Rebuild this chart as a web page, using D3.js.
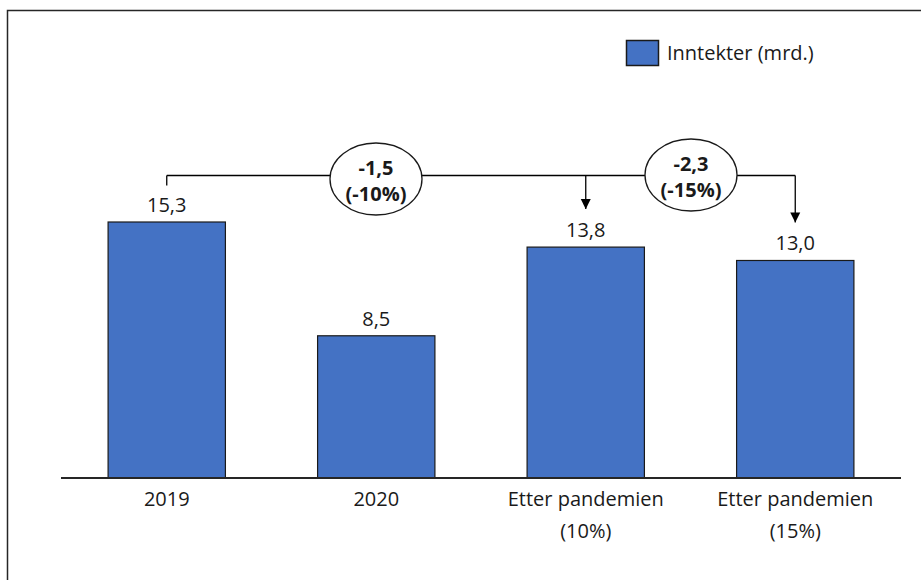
<!DOCTYPE html>
<html>
<head>
<meta charset="utf-8">
<script src="https://cdn.jsdelivr.net/npm/d3@7"></script>
<style>
  body { margin: 0; background: #fff; }
  svg text { font-family: "Open Sans", sans-serif; fill: #1a1a1a; }
</style>
</head>
<body>
<svg id="chart" width="921" height="580"></svg>
<script>
// ---- data ----
const categories = ["2019", "2020", "Etter pandemien\n(10%)", "Etter pandemien\n(15%)"];
const values = [15.3, 8.5, 13.8, 13.0];
const valueLabels = ["15,3", "8,5", "13,8", "13,0"];
const seriesName = "Inntekter (mrd.)";
// change callouts: from category index -> to category index
const deltaFrom = [0, 0];
const deltaTo = [2, 3];
const deltaLabels = [["-1,5", "(-10%)"], ["-2,3", "(-15%)"]];

const svg = d3.select("#chart");
const W = 921, H = 580;
const baseY = 478;
const fs = 20;

// outer frame (top + left edges visible)
svg.append("path")
  .attr("d", `M7.5,${H} V10.5 H${W}`)
  .attr("fill", "none").attr("stroke", "#262626").attr("stroke-width", 1.5);

const x = d3.scaleBand().domain(categories).range([62, 900]).paddingInner(0.44).paddingOuter(0.22);
const y = d3.scaleLinear().domain([0, 15.3]).range([baseY, 222]);

// bars
svg.selectAll("rect.bar").data(values).join("rect")
  .attr("class", "bar")
  .attr("x", (d, i) => x(categories[i]))
  .attr("y", d => y(d))
  .attr("width", x.bandwidth())
  .attr("height", d => baseY - y(d))
  .attr("fill", "#4472c4")
  .attr("stroke", "#1a1a1a").attr("stroke-width", 1.2);

// value labels
svg.selectAll("text.val").data(values).join("text")
  .attr("class", "val")
  .attr("x", (d, i) => x(categories[i]) + x.bandwidth() / 2)
  .attr("y", d => y(d) - 10)
  .attr("text-anchor", "middle")
  .attr("font-size", fs)
  .text((d, i) => valueLabels[i]);

// x axis line
svg.append("line")
  .attr("x1", 61).attr("x2", 901).attr("y1", baseY).attr("y2", baseY)
  .attr("stroke", "#262626").attr("stroke-width", 1.8);

// category labels
categories.forEach(c => {
  const t = svg.append("text")
    .attr("x", x(c) + x.bandwidth() / 2)
    .attr("y", 506)
    .attr("text-anchor", "middle")
    .attr("font-size", fs);
  c.split("\n").forEach((line, k) => {
    t.append("tspan").attr("x", x(c) + x.bandwidth() / 2).attr("dy", k ? 32 : 0).text(line);
  });
});

// legend
svg.append("rect").attr("x", 626.5).attr("y", 40.5).attr("width", 32).attr("height", 25)
  .attr("fill", "#4472c4").attr("stroke", "#1a1a1a").attr("stroke-width", 1.5);
svg.append("text").attr("x", 667).attr("y", 60).attr("font-size", fs).text(seriesName);

// callouts
svg.append("defs").append("marker")
  .attr("id", "arrow").attr("viewBox", "0 0 10 10")
  .attr("refX", 10).attr("refY", 5)
  .attr("markerWidth", 10).attr("markerHeight", 11)
  .attr("markerUnits", "userSpaceOnUse")
  .attr("orient", "auto")
  .append("path").attr("d", "M0,0 L10,5 L0,10 Z").attr("fill", "#000");

const lineY = 175.5;
const cx = i => x(categories[i]) + x.bandwidth() / 2;

// main bracket line
svg.append("line")
  .attr("x1", cx(deltaFrom[0])).attr("x2", cx(3)).attr("y1", lineY).attr("y2", lineY)
  .attr("stroke", "#000").attr("stroke-width", 1.3);
// tick at start
svg.append("line")
  .attr("x1", cx(deltaFrom[0])).attr("x2", cx(deltaFrom[0])).attr("y1", lineY).attr("y2", lineY + 10)
  .attr("stroke", "#000").attr("stroke-width", 1.3);
// arrows down to targets
deltaTo.forEach(j => {
  svg.append("line")
    .attr("x1", cx(j)).attr("x2", cx(j))
    .attr("y1", lineY).attr("y2", y(values[j]) - 38)
    .attr("stroke", "#000").attr("stroke-width", 1.3)
    .attr("marker-end", "url(#arrow)");
});

// ellipses with labels
const ellipseX = [376, 691];
const ellipseY = [179, 175];
deltaLabels.forEach((lab, k) => {
  svg.append("ellipse")
    .attr("cx", ellipseX[k]).attr("cy", ellipseY[k]).attr("rx", 46).attr("ry", 36)
    .attr("fill", "#fff").attr("stroke", "#1a1a1a").attr("stroke-width", 1.3);
  svg.append("text").attr("x", ellipseX[k]).attr("y", ellipseY[k] - 4)
    .attr("text-anchor", "middle").attr("font-size", fs).attr("font-weight", "bold").text(lab[0]);
  svg.append("text").attr("x", ellipseX[k]).attr("y", ellipseY[k] + 22)
    .attr("text-anchor", "middle").attr("font-size", fs).attr("font-weight", "bold").text(lab[1]);
});
</script>
</body>
</html>
